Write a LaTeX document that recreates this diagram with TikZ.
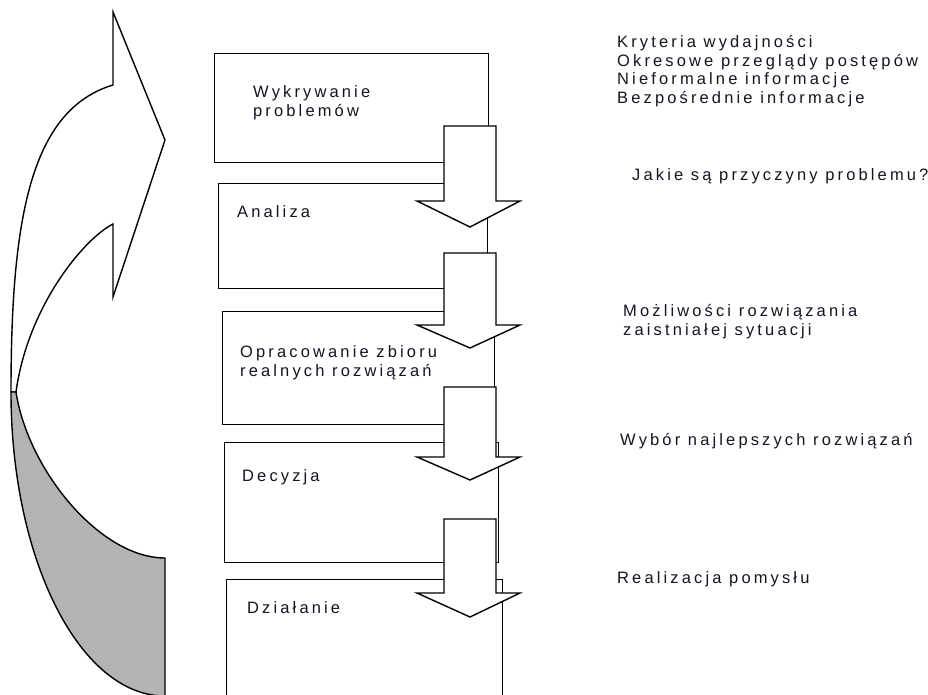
\documentclass[tikz,border=0pt]{standalone}
\usepackage{fontspec}
\setmainfont{Liberation Sans}[LetterSpace=19]
\definecolor{ink}{RGB}{20,20,35}
\definecolor{backface}{RGB}{179,179,179}

\begin{document}
\begin{tikzpicture}[x=1pt,y=-1pt,
  stage/.style={draw,line width=1.4pt,fill=white,anchor=north west,inner sep=0pt},
  lbl/.style={anchor=base west,inner sep=0pt,align=left,text=ink,font=\fontsize{16.5}{18.5}\selectfont},
  blockarrow/.style={draw,line width=1.4pt,fill=white,line join=miter},
  loopface/.style={draw,line width=1.4pt,line join=miter}
]
  \useasboundingbox (0,0) rectangle (928,695);
  \clip (0,0) rectangle (928,695);

  % feedback arrow: front face, then back face
  \path[loopface,fill=white] (113,85) -- (113,12) -- (165,140) -- (113,297) -- (113,224)
    .. controls (85,238) and (28,305) .. (16,392) -- (11,392)
    .. controls (11,220) and (30,110) .. (113,85) -- cycle;
  \path[loopface,fill=backface] (16,392) .. controls (28,470) and (100,558) .. (165,558)
    -- (165,696) .. controls (80,696) and (11,560) .. (11,392) -- cycle;

  % stages
  \node[stage,minimum width=274pt,minimum height=109pt] (wyk) at (214,53) {};
  \node[stage,minimum width=269pt,minimum height=105pt] (ana) at (218,183) {};
  \node[stage,minimum width=272pt,minimum height=113pt] (opr) at (222,311) {};
  \node[stage,minimum width=274pt,minimum height=120pt] (dec) at (224,442) {};
  \node[stage,minimum width=276pt,minimum height=140pt] (dzi) at (226,579) {};

  % (base of a two-line label = its last line)
  \node[lbl] (wyk-t) at (253,116.5) {Wykrywanie\\problemów};
  \node[lbl] (ana-t) at (237,217) {Analiza};
  \node[lbl] (opr-t) at (240,376) {Opracowanie zbioru\\realnych rozwiązań};
  \node[lbl] (dec-t) at (242,481) {Decyzja};
  \node[lbl] (dzi-t) at (247,613) {Działanie};

  % block arrows between stages
  \foreach \ya/\yb/\yc in {126/201/227,253/325/348,387/457/480,519/593/617}
    \path[blockarrow] (444,\ya) -- (496,\ya) -- (496,\yb) -- (520,\yb) -- (470,\yc)
      -- (417,\yb) -- (444,\yb) -- cycle;

  % notes on the right
  \node[lbl] (n-wyk) at (617,103.5) {Kryteria wydajności\\Okresowe przeglądy postępów\\Nieformalne informacje\\Bezpośrednie informacje};
  \node[lbl] (n-ana) at (632,181) {Jakie są przyczyny problemu?};
  \node[lbl] (n-opr) at (623,335) {Możliwości rozwiązania\\zaistniałej sytuacji};
  \node[lbl] (n-dec) at (620,445) {Wybór najlepszych rozwiązań};
  \node[lbl] (n-dzi) at (617,583) {Realizacja pomysłu};
\end{tikzpicture}
\end{document}
